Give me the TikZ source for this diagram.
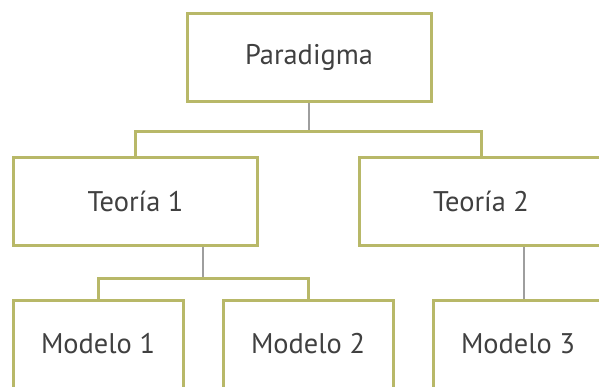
\documentclass[tikz,border=0pt]{standalone}
\usepackage{fontspec}
\setmainfont{PT Sans}
\definecolor{boxline}{RGB}{184,184,104}
\definecolor{linkgray}{RGB}{158,158,158}
\definecolor{textgray}{RGB}{64,64,64}
\begin{document}
\begin{tikzpicture}[x=0.75pt,y=-0.75pt,
		caja/.style={draw=boxline,line width=2.25pt,minimum width=244*0.75pt,minimum height=88*0.75pt,
			inner sep=0pt,text=textgray,font=\fontsize{21.3}{25}\selectfont},
		modelo/.style={caja,minimum width=170*0.75pt},
		rama/.style={draw=boxline,line width=2.25pt},
		enlace/.style={draw=linkgray,line width=1.6pt}]
			\useasboundingbox (0,0) rectangle (599,386);
			\clip (0,0) rectangle (599,386);
			\node[caja] (par) at (309,57.5) {Paradigma};
			\node[caja] (t1) at (135.5,201) {Teoría 1};
			\node[caja] (t2) at (481,201) {Teoría 2};
			\node[modelo] (m1) at (98,344) {Modelo 1};
			\node[modelo] (m2) at (308,344) {Modelo 2};
			\node[modelo] (m3) at (518,344) {Modelo 3};
			\coordinate (j1) at (309,131);
			\coordinate (j2) at (203,278);
			\coordinate (j3) at (524,300);
			\draw[enlace] (par.south) -- (j1);
			\draw[rama] (t1.north) |- (j1) -| (t2.north);
			\draw[enlace] (t1.south -| j2) -- (j2);
			\draw[rama] (m1.north) |- (j2) -| (m2.north);
			\draw[enlace] (t2.south -| j3) -- (m3.north -| j3);
		\end{tikzpicture}
\end{document}
